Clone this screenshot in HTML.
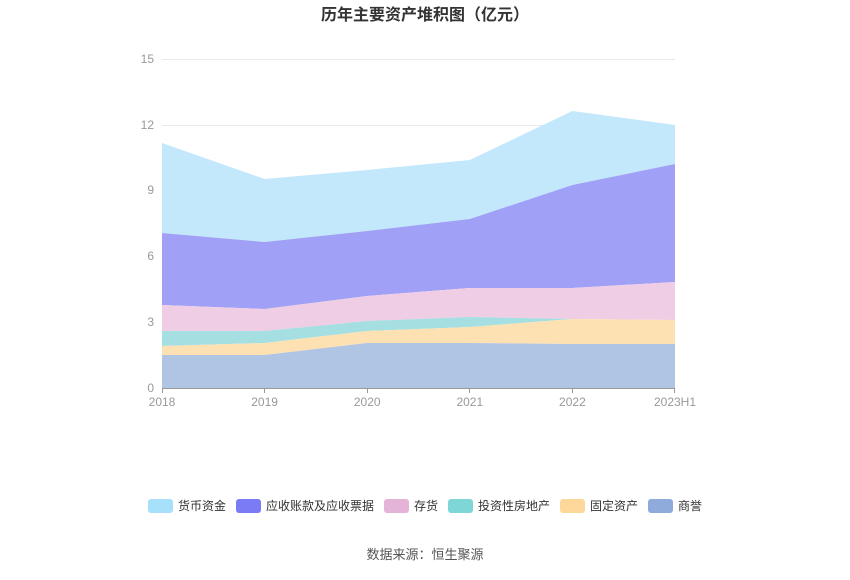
<!DOCTYPE html>
<html><head><meta charset="utf-8"><style>
body{margin:0;background:#fff;width:850px;height:575px;overflow:hidden;font-family:"Liberation Sans","Noto Sans CJK SC",sans-serif;}
</style></head><body>
<svg width="850" height="575" xmlns="http://www.w3.org/2000/svg" font-family="Liberation Sans, Noto Sans CJK SC, sans-serif">
<text x="425" y="20" text-anchor="middle" font-size="16" font-weight="bold" fill="#333">历年主要资产堆积图（亿元）</text>
<g stroke="#e6e9ef" stroke-width="1">
<line x1="162" x2="675" y1="59.5" y2="59.5"/>
<line x1="162" x2="675" y1="125.5" y2="125.5"/>
<line x1="162" x2="675" y1="190.5" y2="190.5"/>
<line x1="162" x2="675" y1="256.5" y2="256.5"/>
<line x1="162" x2="675" y1="322.5" y2="322.5"/>
</g>
<g font-size="12" fill="#999" text-anchor="end">
<text x="154" y="63">15</text><text x="154" y="129">12</text><text x="154" y="194">9</text>
<text x="154" y="260">6</text><text x="154" y="326">3</text><text x="154" y="392">0</text>
</g>
<!-- areas: x 162,264.6,367.2,469.8,572.4,675 -->
<polygon fill="#c3e8fb" points="162,143 264.6,179 367.2,170 469.8,160 572.4,111 675,125 675,164 572.4,185 469.8,219 367.2,231 264.6,242 162,233"/>
<polygon fill="#a0a0f6" points="162,233 264.6,242 367.2,231 469.8,219 572.4,185 675,164 675,282 572.4,288 469.8,288 367.2,296 264.6,309 162,305"/>
<polygon fill="#efcde4" points="162,305 264.6,309 367.2,296 469.8,288 572.4,288 675,282 675,320 572.4,319 469.8,317 367.2,321 264.6,331 162,331"/>
<polygon fill="#a5dfe1" points="162,331 264.6,331 367.2,321 469.8,317 572.4,319 675,320 675,320 572.4,319 469.8,327 367.2,331 264.6,343 162,346"/>
<polygon fill="#fde1b2" points="162,346 264.6,343 367.2,331 469.8,327 572.4,319 675,320 675,344 572.4,344 469.8,343 367.2,343 264.6,355 162,355"/>
<polygon fill="#b0c4e4" points="162,355 264.6,355 367.2,343 469.8,343 572.4,344 675,344 675,388 162,388"/>
<line x1="162" x2="675" y1="388.5" y2="388.5" stroke="#999"/>
<g stroke="#999"><line x1="162.5" x2="162.5" y1="388" y2="393"/><line x1="264.5" x2="264.5" y1="388" y2="393"/><line x1="367.5" x2="367.5" y1="388" y2="393"/><line x1="469.5" x2="469.5" y1="388" y2="393"/><line x1="572.5" x2="572.5" y1="388" y2="393"/><line x1="674.5" x2="674.5" y1="388" y2="393"/></g>
<g font-size="12" fill="#999" text-anchor="middle">
<text x="162" y="406">2018</text><text x="264.6" y="406">2019</text><text x="367.2" y="406">2020</text><text x="469.8" y="406">2021</text><text x="572.4" y="406">2022</text><text x="675" y="406">2023H1</text>
</g>
<g font-size="12" fill="#333">
<rect x="148" y="499" width="25" height="14" rx="3" fill="#a6e0fb"/><text x="178" y="510">货币资金</text>
<rect x="236" y="499" width="25" height="14" rx="3" fill="#7b7bf5"/><text x="266" y="510">应收账款及应收票据</text>
<rect x="384" y="499" width="25" height="14" rx="3" fill="#e6b3d8"/><text x="414" y="510">存货</text>
<rect x="448" y="499" width="25" height="14" rx="3" fill="#7fd6d6"/><text x="478" y="510">投资性房地产</text>
<rect x="560" y="499" width="25" height="14" rx="3" fill="#fdd89a"/><text x="590" y="510">固定资产</text>
<rect x="648" y="499" width="25" height="14" rx="3" fill="#8fabdc"/><text x="678" y="510">商誉</text>
</g>
<text x="425" y="559" text-anchor="middle" font-size="13" fill="#555">数据来源：恒生聚源</text>
</svg>
</body></html>
